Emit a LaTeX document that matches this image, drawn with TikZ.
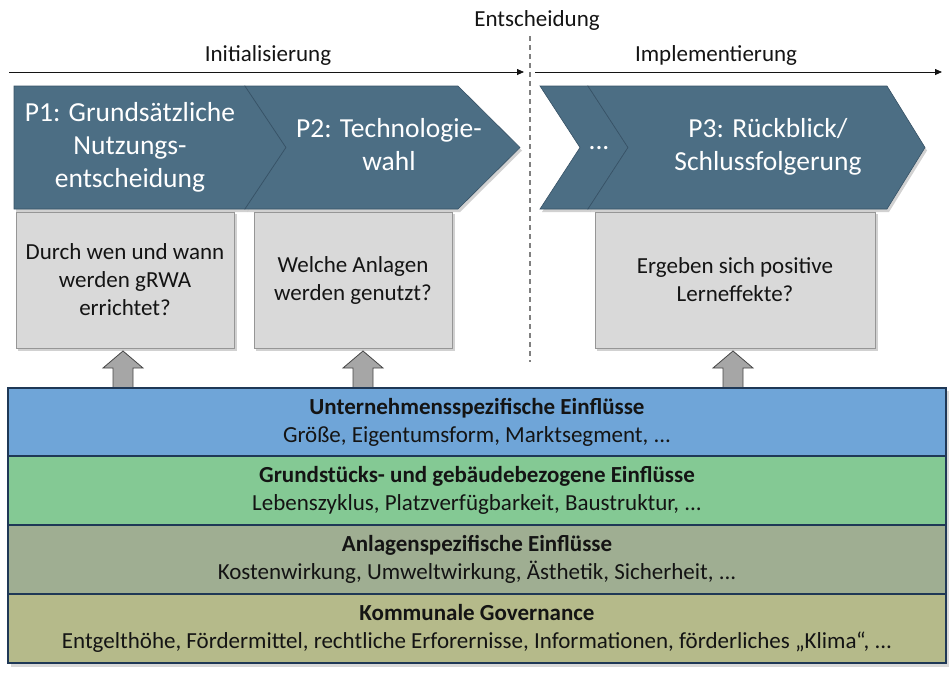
\documentclass[tikz,border=0pt]{standalone}
\usepackage{fontspec}
\setmainfont{Carlito}
\usetikzlibrary{arrows.meta}
\definecolor{chev}{RGB}{76,110,132}
\definecolor{chevline}{RGB}{55,82,102}
\definecolor{boxfill}{RGB}{217,217,217}
\definecolor{boxline}{RGB}{150,150,150}
\definecolor{arrfill}{RGB}{166,166,166}
\definecolor{arrline}{RGB}{70,70,70}
\definecolor{bandblue}{RGB}{111,165,216}
\definecolor{bandgreen}{RGB}{132,201,148}
\definecolor{bandgray}{RGB}{159,174,146}
\definecolor{bandolive}{RGB}{181,186,138}
\definecolor{bandline}{RGB}{31,56,86}
\definecolor{txt}{RGB}{20,20,20}
\definecolor{dashcol}{RGB}{128,128,128}
\begin{document}
\begin{tikzpicture}[x=1pt,y=-1pt,
  chevshape/.style={fill=chev, draw=chevline, line width=0.6pt, line join=miter},
  chevshadow/.style={fill=black, opacity=0.18},
  chevtext/.style={text=white, align=center, font=\fontsize{27.5}{33}\selectfont, inner sep=0pt},
  qbox/.style={fill=boxfill, draw=boxline, line width=0.8pt, minimum height=136pt, inner sep=0pt,
     align=center, text=txt, font=\fontsize{23}{28}\selectfont},
  boxshadow/.style={fill=black, opacity=0.18},
  uparrow/.style={fill=arrfill, draw=arrline, line width=0.8pt, line join=miter},
  band/.style={draw=bandline, line width=1.1pt, minimum width=938pt, inner sep=0pt,
     align=center, text=txt, font=\fontsize{23}{28}\selectfont},
  toplabel/.style={text=txt, font=\fontsize{23}{28}\selectfont, inner sep=0pt},
  timeline/.style={line width=0.8pt, draw=txt, -{Triangle[length=7pt,width=6pt]}},
  divider/.style={draw=dashcol, line width=1.5pt, dash pattern=on 5pt off 4pt}
]
\path[use as bounding box] (0,0) rectangle (951,675);

% top labels and timelines
\node[toplabel] (entsch) at (537,20) {Entscheidung};
\node[toplabel] (initlab) at (268,55) {Initialisierung};
\node[toplabel] (impllab) at (716,55) {Implementierung};
\coordinate (initS) at (9,72);
\coordinate (initE) at (524,72);
\coordinate (implS) at (535,72);
\coordinate (implE) at (942,72);
\draw[timeline] (initS) -- (initE);
\draw[timeline] (implS) -- (implE);
\coordinate (divT) at (530,36);
\coordinate (divB) at (530,362);
\draw[divider] (divT) -- (divB);

% chevron shadows
\fill[chevshadow] (16,89) -- (247,89) -- (288,150.5) -- (247,212) -- (16,212) -- cycle;
\fill[chevshadow] (247,89) -- (460,89) -- (522,150.5) -- (460,212) -- (247,212) -- (288,150.5) -- cycle;
\fill[chevshadow] (542,89) -- (590,89) -- (630,150.5) -- (590,212) -- (542,212) -- (582,150.5) -- cycle;
\fill[chevshadow] (590,89) -- (889,89) -- (927,150.5) -- (889,212) -- (590,212) -- (630,150.5) -- cycle;

% chevrons
\path[chevshape] (14,86) -- (245,86) -- (286,147.5) -- (245,209) -- (14,209) -- cycle;
\path[chevshape] (245,86) -- (458,86) -- (520,147.5) -- (458,209) -- (245,209) -- (286,147.5) -- cycle;
\path[chevshape] (540,86) -- (588,86) -- (628,147.5) -- (588,209) -- (540,209) -- (580,147.5) -- cycle;
\path[chevshape] (588,86) -- (887,86) -- (925,147.5) -- (887,209) -- (588,209) -- (628,147.5) -- cycle;

\node[chevtext] (p1) at (130,147) {P1: Grundsätzliche\\Nutzungs-\\entscheidung};
\node[chevtext] (p2) at (389,145) {P2: Technologie-\\wahl};
\node[chevtext] (pdots) at (599,148) {...};
\node[chevtext] (p3) at (768,147) {P3: Rückblick/\\Schlussfolgerung};

% question boxes
\fill[boxshadow] (18,214) rectangle (237,351);
\fill[boxshadow] (256,214) rectangle (455,351);
\fill[boxshadow] (597,214) rectangle (878,351);
\node[qbox, minimum width=218pt] (q1) at (125,280) {Durch wen und wann\\werden gRWA\\errichtet?};
\node[qbox, minimum width=198pt] (q2) at (353,280) {Welche Anlagen\\werden genutzt?};
\node[qbox, minimum width=280pt] (q3) at (735,280) {Ergeben sich positive\\Lerneffekte?};

% up arrows
\foreach \cx/\nm in {123/a1,363/a2,733/a3}{
  \path[uparrow] (\cx-10,388) -- (\cx-10,368) -- (\cx-20,368) -- (\cx,351) -- (\cx+20,368) -- (\cx+10,368) -- (\cx+10,388);
}

% band shadow
\fill[black, opacity=0.15] (11,391) rectangle (949,667);

% bands
\node[band, fill=bandblue, minimum height=68pt] (b1) at (477,422)
  {\textbf{Unternehmensspezifische Einflüsse}\\Größe, Eigentumsform, Marktsegment, ...};
\node[band, fill=bandgreen, minimum height=69pt] (b2) at (477,490.5)
  {\textbf{Grundstücks- und gebäudebezogene Einflüsse}\\Lebenszyklus, Platzverfügbarkeit, Baustruktur, ...};
\node[band, fill=bandgray, minimum height=69pt] (b3) at (477,559.5)
  {\textbf{Anlagenspezifische Einflüsse}\\Kostenwirkung, Umweltwirkung, Ästhetik, Sicherheit, ...};
\node[band, fill=bandolive, minimum height=69pt] (b4) at (477,628.5)
  {\textbf{Kommunale Governance}\\Entgelthöhe, Fördermittel, rechtliche Erforernisse, Informationen, förderliches „Klima“, ...};
\end{tikzpicture}
\end{document}
